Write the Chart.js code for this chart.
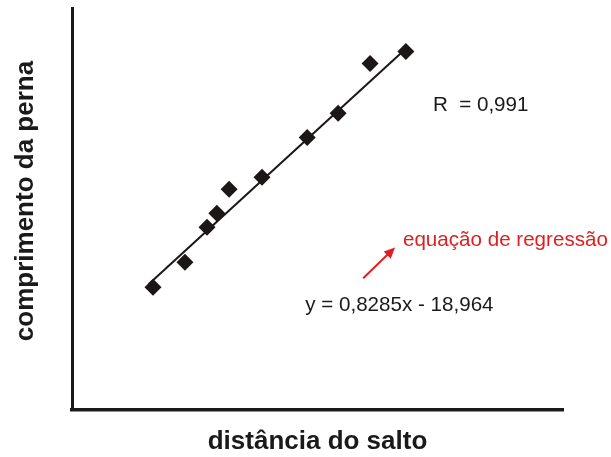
<!DOCTYPE html>
<html>
<head>
<meta charset="utf-8">
<script src="https://cdn.jsdelivr.net/npm/chart.js@4"></script>
<style>
  html, body { margin: 0; padding: 0; background: #fff; }
  #wrap { width: 611px; height: 457px; }
</style>
</head>
<body>
<div id="wrap"><canvas id="jumpChart"></canvas></div>
<script>
// measured points (arbitrary units, axes have no ticks)
var jumpX = [16.5, 23.0, 27.5, 29.5, 32.0, 38.7, 47.9, 54.2, 60.7, 68.0];
var legY  = [30.6, 36.8, 45.5, 49.0, 55.0, 58.0, 67.9, 73.9, 86.3, 89.3];

// regression line end points
var fitX = [15.6, 68.2];
var fitY = [31.3, 90.2];

var notes = [
    { text: 'R  = 0,991', x: 73.5, y: 75.9, color: '#1a1a1a' },
    { text: 'equação de regressão', x: 67.4, y: 42.3, color: '#e02020' },
    { text: 'y = 0,8285x - 18,964', x: 47.5, y: 26.1, color: '#1a1a1a' }
];
var arrowFrom = [59.3, 32.8];
var arrowTo = [65.8, 40.5];

var yTitle = 'comprimento da perna';
var titleFont = '"Liberation Sans", Arial, sans-serif';

var notesPlugin = {
    id: 'notes',
    afterDatasetsDraw: function(chart) {
        var ctx = chart.ctx;
        var sx = chart.scales.x, sy = chart.scales.y;
        ctx.save();
        ctx.font = '20.6px ' + titleFont;
        ctx.textBaseline = 'middle';
        ctx.textAlign = 'left';
        notes.forEach(function(n) {
            ctx.fillStyle = n.color;
            ctx.fillText(n.text, sx.getPixelForValue(n.x), sy.getPixelForValue(n.y));
        });
        // red arrow
        var x0 = sx.getPixelForValue(arrowFrom[0]), y0 = sy.getPixelForValue(arrowFrom[1]);
        var x1 = sx.getPixelForValue(arrowTo[0]), y1 = sy.getPixelForValue(arrowTo[1]);
        var ang = Math.atan2(y1 - y0, x1 - x0);
        ctx.strokeStyle = '#e02020';
        ctx.fillStyle = '#e02020';
        ctx.lineWidth = 2;
        ctx.beginPath();
        ctx.moveTo(x0, y0);
        ctx.lineTo(x1 - 6 * Math.cos(ang), y1 - 6 * Math.sin(ang));
        ctx.stroke();
        ctx.beginPath();
        ctx.moveTo(x1, y1);
        ctx.lineTo(x1 - 11 * Math.cos(ang) + 5 * Math.sin(ang), y1 - 11 * Math.sin(ang) - 5 * Math.cos(ang));
        ctx.lineTo(x1 - 11 * Math.cos(ang) - 5 * Math.sin(ang), y1 - 11 * Math.sin(ang) + 5 * Math.cos(ang));
        ctx.closePath();
        ctx.fill();

        // vertical axis title (sits a bit above the axis centre in the original)
        ctx.translate(33, 201);
        ctx.rotate(-Math.PI / 2);
        ctx.font = 'bold 26px ' + titleFont;
        ctx.fillStyle = '#1a1a1a';
        ctx.textAlign = 'center';
        ctx.textBaseline = 'alphabetic';
        ctx.fillText(yTitle, 0, 0);
        ctx.restore();
    }
};

window.onload = function() {
    var ctx = document.getElementById('jumpChart').getContext('2d');
    var chart = new Chart(ctx, {
        type: 'scatter',
        data: {
            datasets: [{
                label: 'pontos',
                data: jumpX.map(function(x, i) { return { x: x, y: legY[i] }; }),
                pointStyle: 'rectRot',
                pointRadius: 8.5,
                backgroundColor: '#1a1716',
                borderColor: '#1a1716',
                borderWidth: 0
            }, {
                type: 'line',
                label: 'regressão',
                data: fitX.map(function(x, i) { return { x: x, y: fitY[i] }; }),
                borderColor: '#1a1716',
                borderWidth: 2,
                pointRadius: 0,
                fill: false
            }]
        },
        options: {
            responsive: true,
            maintainAspectRatio: false,
            animation: false,
            layout: { padding: { top: 8, right: 48, left: 0, bottom: 0 } },
            plugins: { legend: { display: false }, tooltip: { enabled: false } },
            scales: {
                x: {
                    type: 'linear',
                    min: 0, max: 100,
                    grid: { display: false, drawTicks: false },
                    border: { display: true, color: '#1a1a1a', width: 3.5 },
                    ticks: { display: false },
                    title: {
                        display: true,
                        text: 'distância do salto',
                        color: '#1a1a1a',
                        font: { family: titleFont, size: 26, weight: 'bold' },
                        padding: { top: 0, bottom: 0 }
                    },
                    afterFit: function(s) { s.height = 47; }
                },
                y: {
                    type: 'linear',
                    min: 0, max: 100,
                    grid: { display: false, drawTicks: false },
                    border: { display: true, color: '#1a1a1a', width: 3 },
                    ticks: { display: false },
                    title: { display: false },
                    afterFit: function(s) { s.width = 72; }
                }
            }
        },
        plugins: [notesPlugin]
    });
};
</script>
</body>
</html>
